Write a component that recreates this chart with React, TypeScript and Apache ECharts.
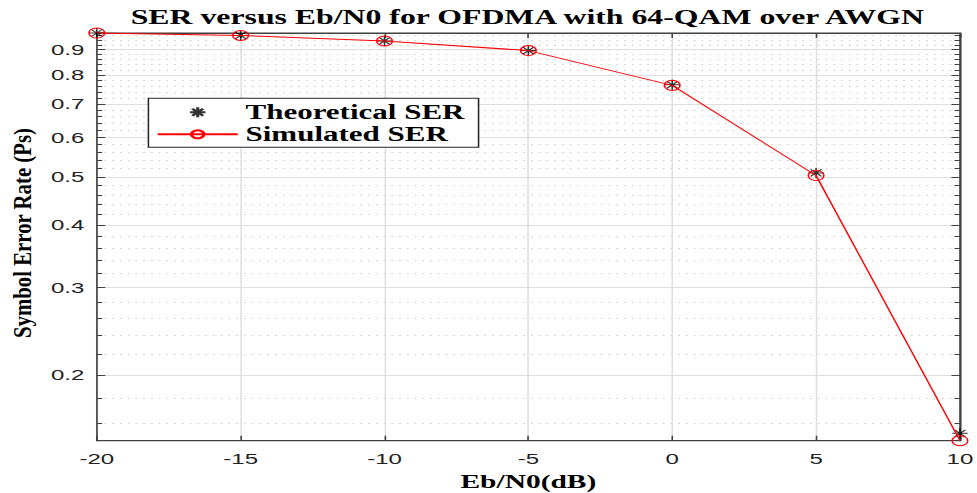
import React, { useEffect, useRef } from "react";
import * as echarts from "echarts";

// ---- data ----
const EBN0_DB = [-20, -15, -10, -5, 0, 5, 10];
const THEORETICAL_SER = [0.972, 0.961, 0.937, 0.896, 0.765, 0.509, 0.1527];
const SIMULATED_SER = [0.972, 0.961, 0.937, 0.896, 0.763, 0.503, 0.1476];
const Y_MAJOR_TICKS = [0.2, 0.3, 0.4, 0.5, 0.6, 0.7, 0.8, 0.9];
const Y_MINOR_TICKS = [
  0.16, 0.18, 0.22, 0.24, 0.26, 0.28, 0.32, 0.34, 0.36, 0.38, 0.42, 0.44, 0.46,
  0.48, 0.52, 0.54, 0.56, 0.58, 0.62, 0.64, 0.66, 0.68, 0.72, 0.74, 0.76, 0.78,
  0.82, 0.84, 0.86, 0.88, 0.92, 0.94, 0.96,
];
const Y_LIMITS = [0.1476, 0.972];
const X_LIMITS = [-20, 10];
const X_STEP = 5;

const TITLE = "SER versus Eb/N0 for OFDMA with 64-QAM over AWGN";
const X_NAME = "Eb/N0(dB)";
const Y_NAME = "Symbol Error Rate (Ps)";
const SERIES_NAMES = ["Theoretical SER", "Simulated SER"];

// The reference picture is horizontally stretched; draw at a narrower width and stretch.
const OUT_W = 977;
const OUT_H = 493;
const IN_W = 630;
const SX = OUT_W / IN_W;

const STAR = "path://M0 10L20 10M10 0L10 20M3 3L17 17M17 3L3 17";

const lg = (v: number) => Math.log10(v);

export default function App() {
  const ref = useRef<HTMLDivElement>(null);

  useEffect(() => {
    if (!ref.current) return;
    const chart = echarts.init(ref.current, undefined, {
      renderer: "svg",
      width: IN_W,
      height: OUT_H,
    });
    const yMin = lg(Y_LIMITS[0]);
    const yMax = lg(Y_LIMITS[1]);
    const axisColor = "#404040";
    const majorLog = Y_MAJOR_TICKS.map(lg);
    const minorLog = Y_MINOR_TICKS.map(lg);
    const baseY = { type: "value", min: yMin, max: yMax };
    const shownLine = { show: true, onZero: false, lineStyle: { color: axisColor, width: 1 } };
    const hiddenLine = { show: false, onZero: false };
    const gridRect = {
      left: 62.4,
      right: 11,
      top: 33,
      bottom: 52.3,
      containLabel: false,
      outerBoundsMode: "none",
    };

    chart.setOption({
      animation: false,
      backgroundColor: "#ffffff",
      title: {
        text: TITLE,
        left: 340,
        top: 7,
        textAlign: "center",
        padding: 0,
        textStyle: {
          fontFamily: "Liberation Serif",
          fontWeight: "bold",
          fontSize: 20.5,
          color: "#000",
        },
      },
      grid: [
        {
          ...gridRect,
          show: true,
          borderColor: axisColor,
          borderWidth: 1,
          backgroundColor: "rgba(0,0,0,0)",
        },
        gridRect,
      ],
      legend: {
        orient: "vertical",
        left: 95.7,
        top: 98.3,
        padding: [4, 9, 3, 5],
        itemGap: 2,
        itemWidth: 51.6,
        itemHeight: 10,
        borderColor: "#262626",
        borderWidth: 1,
        borderRadius: 0,
        backgroundColor: "#ffffff",
        data: SERIES_NAMES,
        z: 10,
        textStyle: {
          fontFamily: "Liberation Serif",
          fontWeight: "bold",
          fontSize: 20,
          color: "#000",
        },
      },
      xAxis: [
        {
          type: "value",
          gridIndex: 0,
          position: "bottom",
          min: X_LIMITS[0],
          max: X_LIMITS[1],
          interval: X_STEP,
          name: X_NAME,
          nameLocation: "middle",
          nameGap: 26,
          nameTextStyle: {
            fontFamily: "Liberation Serif",
            fontWeight: "bold",
            fontSize: 19,
            color: "#000",
          },
          axisLine: shownLine,
          axisTick: { show: true, inside: true, length: 5, lineStyle: { color: axisColor } },
          axisLabel: {
            margin: 10,
            fontFamily: "Liberation Sans",
            fontSize: 15.5,
            color: "#222",
          },
          splitLine: { show: true, lineStyle: { color: "#dedede", width: 1 } },
        },
        {
          type: "value",
          gridIndex: 0,
          position: "top",
          min: X_LIMITS[0],
          max: X_LIMITS[1],
          interval: X_STEP,
          axisLine: shownLine,
          axisTick: { show: true, inside: true, length: 5, lineStyle: { color: axisColor } },
          axisLabel: { show: false },
          splitLine: { show: false },
        },
        {
          type: "value",
          gridIndex: 1,
          position: "bottom",
          min: X_LIMITS[0],
          max: X_LIMITS[1],
          interval: X_STEP,
          axisLine: hiddenLine,
          axisTick: { show: false },
          axisLabel: { show: false },
          splitLine: { show: false },
        },
      ],
      yAxis: [
        {
          ...baseY,
          gridIndex: 0,
          position: "left",
          axisLine: shownLine,
          axisTick: {
            show: true,
            inside: true,
            length: 5.5,
            customValues: majorLog,
            lineStyle: { color: axisColor },
          },
          axisLabel: {
            show: true,
            customValues: majorLog,
            margin: 8,
            fontFamily: "Liberation Sans",
            fontSize: 15.5,
            color: "#222",
            formatter: (v: number) => Math.pow(10, v).toFixed(1),
          },
          splitLine: { show: true, lineStyle: { color: "#dedede", width: 1 } },
        },
        {
          ...baseY,
          gridIndex: 0,
          position: "right",
          axisLine: shownLine,
          axisTick: {
            show: true,
            inside: true,
            length: 5.5,
            customValues: majorLog,
            lineStyle: { color: axisColor },
          },
          axisLabel: { show: false },
          splitLine: { show: false },
        },
        {
          ...baseY,
          gridIndex: 1,
          position: "left",
          axisLine: hiddenLine,
          axisTick: {
            show: true,
            inside: true,
            length: 3.5,
            customValues: minorLog,
            lineStyle: { color: axisColor },
          },
          axisLabel: { show: false },
          splitLine: {
            show: true,
            lineStyle: { color: "#cccccc", width: 1, type: [1, 4] },
          },
        },
        {
          ...baseY,
          gridIndex: 1,
          position: "right",
          axisLine: hiddenLine,
          axisTick: {
            show: true,
            inside: true,
            length: 3.5,
            customValues: minorLog,
            lineStyle: { color: axisColor },
          },
          axisLabel: { show: false },
          splitLine: { show: false },
        },
      ],
      graphic: [
        {
          type: "text",
          x: 14.5,
          y: 233,
          rotation: Math.PI / 2,
          scaleX: 1.3,
          style: {
            text: Y_NAME,
            fontFamily: "Liberation Serif",
            fontWeight: "bold",
            fontSize: 16,
            fill: "#000",
            align: "center",
            verticalAlign: "middle",
          },
        },
      ],
      series: [
        {
          type: "scatter",
          name: SERIES_NAMES[0],
          xAxisIndex: 0,
          yAxisIndex: 0,
          data: EBN0_DB.map((x, i) => [x, lg(THEORETICAL_SER[i])]),
          symbol: STAR,
          symbolSize: 10,
          symbolKeepAspect: true,
          clip: false,
          itemStyle: { color: "rgba(0,0,0,0)", borderColor: "#000", borderWidth: 1 },
          z: 3,
        },
        {
          type: "line",
          name: SERIES_NAMES[1],
          xAxisIndex: 0,
          yAxisIndex: 0,
          data: EBN0_DB.map((x, i) => [x, lg(SIMULATED_SER[i])]),
          symbol: "circle",
          symbolSize: 10,
          showAllSymbol: true,
          clip: false,
          color: "#ff0000",
          lineStyle: { color: "#ff0000", width: 1 },
          itemStyle: { color: "rgba(0,0,0,0)", borderColor: "#ff0000", borderWidth: 1 },
          z: 4,
        },
      ],
    });
    return () => chart.dispose();
  }, []);

  return (
    <div
      ref={ref}
      style={{
        position: "fixed",
        left: 0,
        top: 0,
        width: IN_W,
        height: OUT_H,
        transform: `scaleX(${SX})`,
        transformOrigin: "0 0",
        background: "#fff",
      }}
    />
  );
}
